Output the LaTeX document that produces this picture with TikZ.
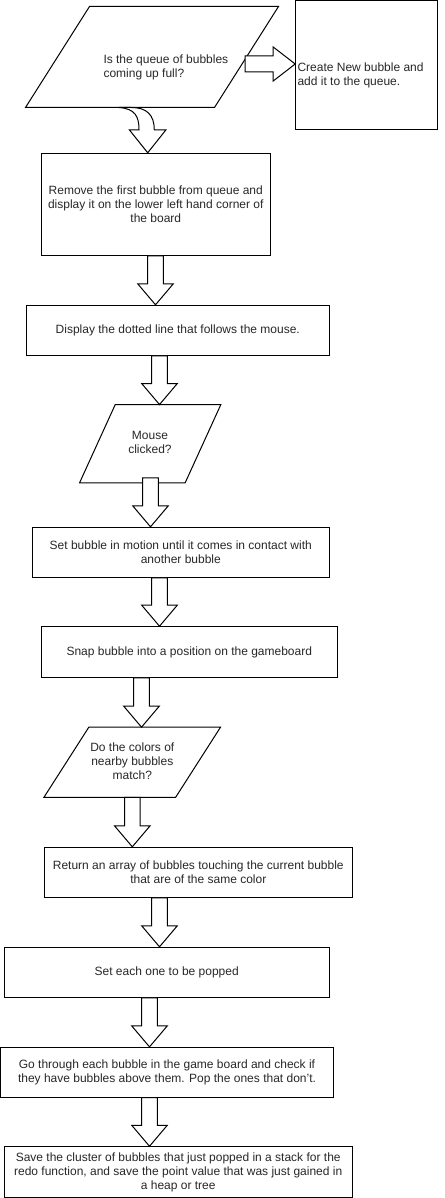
\documentclass[tikz,border=0pt]{standalone}
\usepackage{fontspec}
\setmainfont{Liberation Sans}
\usetikzlibrary{calc}
\definecolor{txt}{RGB}{40,40,40}
\tikzset{
  every picture/.style={x=0.75pt,y=-0.75pt,line width=0.75pt},
  box/.style={draw=black,fill=white,inner sep=0pt,font=\fontsize{9}{10.5}\selectfont,text=txt,align=center},
  frame/.style={inner sep=0pt,font=\fontsize{9}{10.5}\selectfont,text=txt,align=center},
  lbl/.style={inner sep=0pt,font=\fontsize{9}{10.5}\selectfont,text=txt},
  barrow/.style={draw=black,fill=white,line join=miter},
  para/.style={draw=black,fill=white}
}
% #1 x-coordinate, #2 from node, #3 to node, #4 top offset
\newcommand\blockdown[4]{%
  \draw[barrow] ($(#2.south -| #1)+(-7.8,#4)$) -- ($(#3.north -| #1)+(-7.8,-21)$)
    -- ($(#3.north -| #1)+(-17.8,-21)$) -- (#3.north -| #1)
    -- ($(#3.north -| #1)+(17.8,-21)$) -- ($(#3.north -| #1)+(7.8,-21)$)
    -- ($(#2.south -| #1)+(7.8,#4)$) -- cycle;}
\newcommand\paradraw[2]{%
  \draw[para] ($(#1.north west)+(#2,0)$) -- (#1.north east)
    -- ($(#1.south east)+(-#2,0)$) -- (#1.south west) -- cycle;}
\begin{document}
\begin{tikzpicture}
\useasboundingbox (0,0) rectangle (445,1198);

% top decision
\node[frame,minimum width=252*0.75pt,minimum height=100*0.75pt] (q1) at (152,57) {};
\paradraw{q1}{64}
\node[lbl,anchor=west,align=left] (q1t) at (103,67.4) {Is the queue of bubbles\\coming up full?};

\node[box,minimum width=141.3*0.75pt,minimum height=129*0.75pt] (c1) at (366.35,65.5) {};
\node[lbl,anchor=west,align=left] (c1t) at (297,75.5) {Create New bubble and\\add it to the queue.};

\node[box,minimum width=229*0.75pt,minimum height=102*0.75pt] (b2) at (155.8,204.3)
  {Remove the first bubble from queue and\\display it on the lower left hand corner of\\the board};
\node[box,minimum width=303*0.75pt,minimum height=50*0.75pt] (b3) at (177.8,330.3)
  {Display the dotted line that follows the mouse.};

\node[frame,minimum width=140.3*0.75pt,minimum height=77.3*0.75pt] (q2) at (150.2,443.7) {};
\paradraw{q2}{35.7}
\node[lbl,align=center] (q2t) at (150,442.3) {Mouse\\clicked?};

\node[box,minimum width=297*0.75pt,minimum height=50*0.75pt] (b5) at (180.8,552.3)
  {Set bubble in motion until it comes in contact with\\another bubble};
\node[box,minimum width=296*0.75pt,minimum height=50.6*0.75pt] (b6) at (189.3,652)
  {Snap bubble into a position on the gameboard};

\node[frame,minimum width=175.7*0.75pt,minimum height=69.3*0.75pt] (q3) at (132.2,762.3) {};
\paradraw{q3}{45}
\node[lbl,align=center] (q3t) at (132.3,761.7) {Do the colors of\\nearby bubbles\\match?};

\node[box,minimum width=308*0.75pt,minimum height=50*0.75pt] (b8) at (198.3,872.3)
  {Return an array of bubbles touching the current bubble\\that are of the same color};
\node[box,minimum width=325.3*0.75pt,minimum height=50*0.75pt] (b9) at (166.7,972.3)
  {Set each one to be popped};
\node[box,minimum width=332.5*0.75pt,minimum height=49.7*0.75pt] (b10) at (167,1072.2)
  {Go through each bubble in the game board and check if\\they have bubbles above them. Pop the ones that don\char39{}t.};
\node[box,minimum width=348.3*0.75pt,minimum height=50.3*0.75pt] (b11) at (178.2,1171.9)
  {Save the cluster of bubbles that just popped in a stack for the\\redo function, and save the point value that was just gained in\\a heap or tree};

% arrow x positions
\coordinate (x2) at (155.5,0);
\coordinate (x3) at (159.5,0);
\coordinate (x4) at (150.5,0);
\coordinate (x5) at (159.5,0);
\coordinate (x6) at (141.5,0);
\coordinate (x7) at (132.3,0);
\coordinate (x8) at (159.5,0);
\coordinate (x9) at (149.5,0);
\coordinate (x10) at (149.5,0);
\coordinate (ca) at (147.7,0);

% right block arrow
\coordinate (rt) at ($(c1.west)+(0,-1.5)$);
\draw[barrow] ($(rt)+(-50,-8)$) -- ($(rt)+(-22,-8)$) -- ($(rt)+(-22,-17)$) -- (rt)
  -- ($(rt)+(-22,17)$) -- ($(rt)+(-22,8)$) -- ($(rt)+(-50,8)$) -- cycle;

% curved block arrow
\draw[barrow] ($(q1.south west)+(93,0)$) .. controls ($(q1.south west)+(110,1)$) and ($(b2.north -| ca)+(-8.7,-36)$) .. ($(b2.north -| ca)+(-8.7,-23)$)
  -- ($(b2.north -| ca)+(-18.4,-23)$) -- (b2.north -| ca) -- ($(b2.north -| ca)+(18.3,-23)$)
  -- ($(b2.north -| ca)+(6.6,-23)$) .. controls ($(b2.north -| ca)+(6.6,-38)$) and ($(q1.south west)+(121,0)$) .. ($(q1.south west)+(106,0)$) -- cycle;

\blockdown{x2}{b2}{b3}{0}
\blockdown{x3}{b3}{q2}{0}
\blockdown{x4}{q2}{b5}{-5}
\blockdown{x5}{b5}{b6}{0}
\blockdown{x6}{b6}{q3}{0}
\blockdown{x7}{q3}{b8}{0}
\blockdown{x8}{b8}{b9}{0}
\blockdown{x9}{b9}{b10}{0}
\blockdown{x10}{b10}{b11}{0}
\end{tikzpicture}
\end{document}
